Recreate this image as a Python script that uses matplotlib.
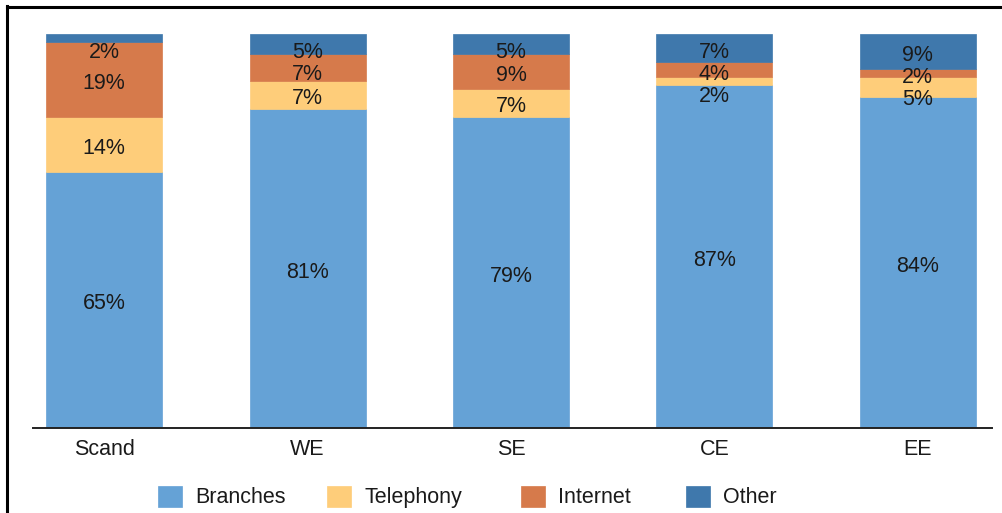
import matplotlib
matplotlib.use("Agg")
import matplotlib.pyplot as plt
from matplotlib.lines import Line2D
import numpy as np

plt.rcParams['font.family'] = ['Liberation Sans', 'DejaVu Sans']

categories = ["Scand", "WE", "SE", "CE", "EE"]
series_names = ["Branches", "Telephony", "Internet", "Other"]
branches = [65, 81, 79, 87, 84]
telephony = [14, 7, 7, 2, 5]
internet = [19, 7, 9, 4, 2]
other = [2, 5, 5, 7, 9]
colors = ["#65A2D6", "#FECD7A", "#D67A4B", "#3F78AC"]

FS = 15.5
W, H = 1003, 513
fig = plt.figure(figsize=(W / 100, H / 100), dpi=100)
ax = fig.add_axes([33 / W, 1 - 428 / H, (992 - 33) / W, (428 - 34) / H])

x = np.arange(len(categories))
data = [branches, telephony, internet, other]
bottom = np.zeros(len(categories))
handles = []
for vals, name, c in zip(data, series_names, colors):
    vals = np.array(vals, dtype=float)
    b = ax.bar(x, vals, bottom=bottom, width=0.57, color=c, label=name,
               edgecolor=c, linewidth=0.5)
    handles.append(b)
    bottom += vals

# label positions: centered, pushed apart from top down
cap_off = -0.716 * FS / 2
for i in range(len(categories)):
    segs = []
    cum = 0
    for vals in data:
        segs.append((cum + vals[i] / 2, vals[i]))
        cum += vals[i]
    ys = [None] * len(segs)
    prev = None
    for k in range(len(segs) - 1, -1, -1):
        cy, v = segs[k]
        y = min(cy - 0.4, 95.9)
        if prev is not None:
            y = min(y, prev - 5.6)
        ys[k] = y
        prev = y
    for k, (cy, v) in enumerate(segs):
        ax.annotate(f"{v}%", (x[i], ys[k]), xytext=(0, cap_off),
                    textcoords="offset points", ha="center", va="baseline",
                    fontsize=FS, color="#1a1a1a")

ax.set_xlim(-0.35, 4.365)
ax.set_ylim(0, 100)
ax.set_xticks(x)
ax.set_xticklabels(categories, fontsize=FS, color="#1a1a1a")
ax.tick_params(axis="x", length=0, pad=8)
ax.set_yticks([])
for s in ["top", "right", "left"]:
    ax.spines[s].set_visible(False)
ax.spines["bottom"].set_linewidth(1.4)
ax.spines["bottom"].set_color("#222222")

# legend entries placed individually
legend_x = [158, 327, 521, 686]
for h, name, lx in zip(handles, series_names, legend_x):
    lg = fig.legend(handles=[h], labels=[name], loc="center left",
                    bbox_to_anchor=(lx / W, 1 - 497 / H), frameon=False,
                    fontsize=FS, handlelength=1.12, handleheight=1.12,
                    handletextpad=0.6, borderpad=0, borderaxespad=0)
    for t in lg.get_texts():
        t.set_color("#1a1a1a")

# frame border (top and left)
fig.add_artist(Line2D([7 / W, 1.0], [1 - 7 / H, 1 - 7 / H], color="black",
                      linewidth=2.2, transform=fig.transFigure))
fig.add_artist(Line2D([7 / W, 7 / W], [0, 1 - 6 / H], color="black",
                      linewidth=2.2, transform=fig.transFigure))

fig.savefig("out.png", dpi=100)
